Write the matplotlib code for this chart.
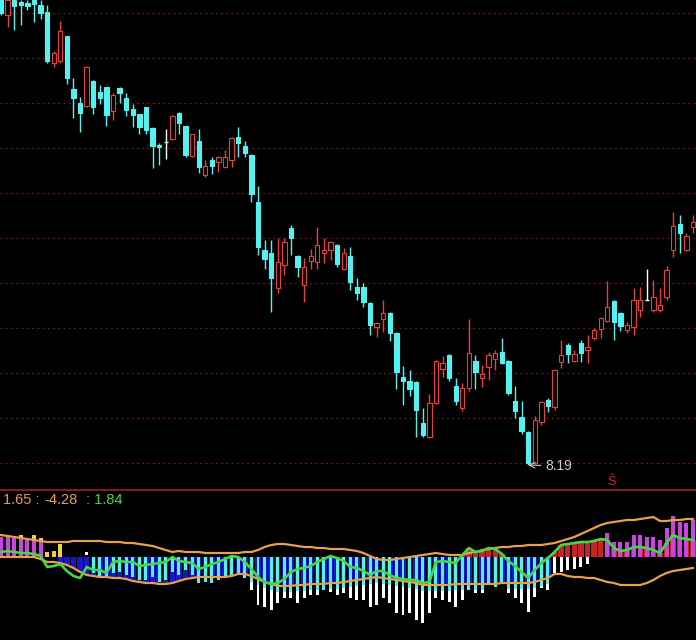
import matplotlib
matplotlib.use('Agg')
import matplotlib.pyplot as plt
from matplotlib.patches import Rectangle
from matplotlib.lines import Line2D

# ---- price data (one candle per day) ----
open_ = [
    12.86, 12.69, 12.84, 12.82, 12.81, 12.84, 12.79, 12.72, 12.21, 12.23,
    12.48, 11.95, 11.81, 11.78, 12.03, 11.92, 11.97, 11.73, 11.96, 11.86,
    11.75, 11.70, 11.77, 11.56, 11.39, 11.42, 11.45, 11.71, 11.58, 11.28,
    11.43, 11.09, 11.24, 11.22, 11.17, 11.24, 11.47, 11.38, 11.29, 10.82,
    10.34, 10.31, 9.96, 10.19, 10.56, 10.28, 9.99, 10.23, 10.22, 10.31,
    10.34, 10.39, 10.15, 10.28, 9.97, 9.97, 9.81, 9.57, 9.65, 9.71,
    9.51, 9.07, 9.03, 9.02, 8.61, 8.47, 8.81, 9.15, 9.29, 8.98,
    8.76, 8.96, 9.23, 9.06, 9.17, 9.25, 9.32, 9.23, 8.83, 8.67,
    8.52, 8.21, 8.62, 8.84, 8.77, 9.22, 9.39, 9.23, 9.41, 9.34,
    9.46, 9.55, 9.63, 9.83, 9.71, 9.54, 9.57, 9.74, 9.84, 9.74,
    9.74, 9.87, 10.34, 10.60, 10.34, 10.57]
high = [
    12.89, 12.87, 12.86, 12.84, 12.84, 12.86, 12.84, 12.79, 12.33, 12.63,
    12.48, 12.06, 11.87, 12.18, 12.04, 11.99, 11.97, 11.91, 11.97, 11.91,
    11.80, 11.70, 11.77, 11.57, 11.41, 11.55, 11.69, 11.72, 11.58, 11.50,
    11.55, 11.24, 11.27, 11.28, 11.34, 11.47, 11.57, 11.43, 11.30, 10.98,
    10.44, 10.44, 10.46, 10.46, 10.59, 10.29, 10.26, 10.35, 10.57, 10.46,
    10.43, 10.40, 10.36, 10.37, 10.06, 10.01, 9.82, 9.62, 9.84, 9.72,
    9.52, 9.18, 9.14, 9.03, 8.76, 8.90, 9.24, 9.28, 9.30, 9.06,
    9.01, 9.65, 9.29, 9.19, 9.32, 9.34, 9.46, 9.24, 8.98, 8.83,
    8.53, 8.68, 8.83, 8.86, 9.15, 9.44, 9.41, 9.34, 9.44, 9.49,
    9.56, 9.67, 10.03, 9.84, 9.72, 9.62, 9.96, 9.97, 10.15, 10.04,
    9.96, 10.18, 10.72, 10.69, 10.51, 10.69]
low = [
    12.69, 12.57, 12.54, 12.59, 12.74, 12.62, 12.65, 12.21, 12.17, 12.21,
    12.00, 11.66, 11.52, 11.77, 11.70, 11.80, 11.58, 11.64, 11.81, 11.68,
    11.57, 11.50, 11.50, 11.16, 11.19, 11.25, 11.44, 11.50, 11.27, 11.27,
    11.11, 11.07, 11.10, 11.12, 11.16, 11.17, 11.27, 11.27, 10.82, 10.29,
    10.15, 9.72, 9.91, 10.09, 10.29, 10.07, 9.82, 10.15, 10.15, 10.21,
    10.24, 10.17, 10.14, 9.94, 9.84, 9.77, 9.49, 9.47, 9.52, 9.43,
    8.95, 8.79, 8.88, 8.47, 8.47, 8.46, 8.80, 9.07, 9.03, 8.79,
    8.73, 8.93, 8.95, 8.97, 9.04, 9.14, 9.20, 8.89, 8.66, 8.50,
    8.19, 8.20, 8.59, 8.72, 8.74, 9.16, 9.21, 9.22, 9.22, 9.21,
    9.44, 9.46, 9.62, 9.44, 9.53, 9.51, 9.49, 9.67, 9.84, 9.72,
    9.72, 9.84, 10.27, 10.31, 10.33, 10.51]
close = [
    12.71, 12.84, 12.78, 12.79, 12.78, 12.80, 12.71, 12.23, 12.31, 12.53,
    12.06, 11.86, 11.71, 12.17, 11.77, 11.86, 11.69, 11.89, 11.91, 11.74,
    11.69, 11.57, 11.54, 11.38, 11.37, 11.42, 11.68, 11.61, 11.29, 11.50,
    11.17, 11.18, 11.18, 11.27, 11.27, 11.46, 11.41, 11.31, 10.90, 10.37,
    10.25, 10.06, 10.22, 10.42, 10.46, 10.17, 10.17, 10.28, 10.39, 10.34,
    10.42, 10.20, 10.31, 10.02, 9.91, 9.82, 9.59, 9.61, 9.71, 9.51,
    9.12, 9.03, 8.95, 8.74, 8.49, 8.81, 9.23, 9.21, 9.06, 8.83,
    8.96, 9.31, 9.12, 9.10, 9.29, 9.31, 9.21, 8.91, 8.73, 8.53,
    8.21, 8.64, 8.82, 8.78, 9.14, 9.29, 9.30, 9.30, 9.31, 9.37,
    9.54, 9.66, 9.77, 9.62, 9.58, 9.59, 9.84, 9.84, 9.84, 9.87,
    9.79, 10.14, 10.58, 10.51, 10.48, 10.62]

grid_levels = [8.21, 8.66, 9.11, 9.56, 10.01, 10.46, 10.91, 11.36, 11.81, 12.26, 12.71]
low_idx = 80
low_text = '8.19'

# ---- indicator panel ----
upper = [
    2.2, 2.1, 2.0, 1.9, 1.8, 1.7, 1.6, 1.5, 1.5, 1.5,
    1.5, 1.6, 1.6, 1.6, 1.6, 1.6, 1.5, 1.5, 1.5, 1.4,
    1.4, 1.3, 1.2, 1.1, 0.9, 0.7, 0.5, 0.6, 0.5, 0.5,
    0.5, 0.4, 0.4, 0.4, 0.4, 0.4, 0.4, 0.5, 0.5, 0.7,
    1.0, 1.2, 1.3, 1.3, 1.2, 1.1, 1.0, 1.0, 0.9, 0.9,
    0.8, 0.8, 0.8, 0.7, 0.6, 0.4, 0.1, -0.2, -0.3, -0.3,
    -0.2, -0.1, 0.0, 0.1, 0.2, 0.3, 0.4, 0.3, 0.2, 0.2,
    0.2, 0.4, 0.5, 0.7, 0.8, 0.9, 1.0, 1.0, 1.1, 1.1,
    1.2, 1.2, 1.2, 1.3, 1.4, 1.6, 1.8, 2.0, 2.3, 2.6,
    2.9, 3.2, 3.4, 3.5, 3.6, 3.7, 3.7, 3.8, 3.9, 4.0,
    3.6, 3.6, 3.7, 3.7, 3.8, 3.8]
lower = [
    0.0, 0.0, 0.0, 0.0, 0.0, 0.0, -0.2, -0.5, -0.5, -0.6,
    -0.8, -1.1, -1.5, -1.8, -1.9, -2.0, -2.0, -2.1, -2.1, -2.2,
    -2.4, -2.5, -2.6, -2.6, -2.7, -2.7, -2.6, -2.4, -2.2, -2.1,
    -2.0, -2.0, -2.0, -2.0, -2.0, -1.9, -1.7, -1.7, -1.9, -2.2,
    -2.5, -2.7, -2.9, -2.9, -2.9, -2.8, -2.8, -2.7, -2.7, -2.7,
    -2.6, -2.6, -2.5, -2.4, -2.3, -2.2, -2.1, -2.0, -2.1, -2.2,
    -2.3, -2.4, -2.5, -2.6, -2.8, -2.8, -2.8, -2.8, -2.8, -2.7,
    -2.7, -2.7, -2.7, -2.7, -2.7, -2.7, -2.6, -2.6, -2.6, -2.6,
    -2.6, -2.5, -2.3, -2.1, -1.7, -1.7, -1.9, -2.0, -2.0, -2.1,
    -2.1, -2.3, -2.5, -2.6, -2.8, -2.8, -2.8, -2.8, -2.6, -2.3,
    -1.9, -1.6, -1.4, -1.3, -1.2, -1.1]
green = [
    0.5, 0.6, 0.5, 0.4, 0.4, 0.3, 0.1, -1.0, -0.9, -0.7,
    -1.4, -1.9, -2.1, -1.0, -1.3, -1.3, -1.6, -0.5, -0.4, -0.5,
    -0.5, -0.9, -0.8, -0.7, -0.6, -0.5, 0.0, -0.4, -0.5, -0.6,
    -1.2, -1.0, -0.7, -0.5, -0.2, 0.1, 0.0, -0.5, -1.2, -2.0,
    -2.5, -2.7, -2.6, -2.2, -1.5, -1.2, -1.1, -0.9, -0.5, -0.2,
    0.1, -0.1, -0.4, -1.0, -1.1, -1.4, -1.8, -1.4, -1.4, -1.8,
    -2.1, -2.2, -2.3, -2.3, -2.6, -2.5, -0.5, -0.4, -0.5, -0.6,
    0.2, 0.9, 0.5, 0.6, 0.9, 0.8, 0.3, -0.4, -0.9, -1.5,
    -2.1, -1.3, -0.6, -0.1, 0.5, 1.2, 1.3, 1.4, 1.5, 1.5,
    1.6, 1.8, 1.7, 0.9, 0.6, 0.7, 1.0, 1.0, 0.9, 0.7,
    0.4, 1.4, 2.2, 1.9, 1.8, 1.7]
hist = [
    2.0, 2.2, 2.0, 1.9, 1.7, 1.9, 1.5, 0.5, 0.6, 1.3,
    0.0, 0.0, 0.0, 0.5, -1.6, -2.0, -2.1, -1.6, -1.5, -1.8,
    -2.0, -2.3, -2.3, -2.0, -2.5, -2.3, -1.5, -1.8, -1.3, -1.8,
    -2.6, -2.5, -2.6, -2.3, -2.0, -1.8, -1.6, -2.1, -3.3, -4.8,
    -5.0, -5.3, -4.6, -4.1, -4.1, -4.6, -4.1, -3.8, -3.8, -3.3,
    -3.5, -3.8, -3.6, -4.1, -4.3, -4.3, -5.0, -4.8, -4.1, -4.6,
    -5.6, -5.8, -5.6, -6.3, -6.6, -5.6, -4.1, -4.3, -4.5, -5.0,
    -4.3, -3.3, -3.6, -3.6, -2.6, -3.0, -2.6, -3.6, -4.1, -4.6,
    -5.5, -4.0, -3.1, -3.3, -1.6, -1.5, -1.3, -1.2, -1.0, -0.7,
    0.0, 0.0, 2.4, 1.5, 1.5, 1.5, 2.2, 2.2, 2.0, 2.0,
    1.7, 2.9, 4.1, 3.5, 3.4, 3.7]
cap_bars = [3, 5, 6]
cap_vals = [2.0, 2.0, 1.7]
readout = ['1.65 :', '-4.28', ': 1.84']

# ---- styles ----
RED = '#e8403c'
CYAN = '#55f0f0'
GRID = '#6a1818'
ORANGE = '#e8a04a'
GREEN = '#44d844'
BLUE = '#1818c8'
FILL_RED = '#c82222'
MAGENTA = '#cc44e0'
YELLOW = '#f0d048'
yellow_bars = (7, 8, 9)
white_dot_bars = (13,)
white_only = range(84, 90)
blue_span = range(9, 84)
cyan_extra = 0.6   # cyan part of a stick runs this far past the lower band

plt.rcParams['font.family'] = ['Liberation Sans', 'DejaVu Sans']

W, H = 696, 640
fig = plt.figure(figsize=(W / 100, H / 100), dpi=100, facecolor='black')
xlim = (-1 / 6.59, 695 / 6.59)


def draw_price(ax):
    n = len(close)
    for i in range(n):
        o, h, l, c = open_[i], high[i], low[i], close[i]
        if c > o:
            col = RED
        elif c < o:
            col = CYAN
        else:
            col = 'white'
        ax.vlines(i, l, h, color=col, lw=1.0, zorder=2)
        if c == o:
            ax.hlines(o, i - 0.32, i + 0.32, color=col, lw=1.0, zorder=3)
        else:
            face = 'black' if c > o else col
            ax.add_patch(Rectangle((i - 0.33, min(o, c)), 0.66, abs(c - o),
                                   facecolor=face, edgecolor=col, lw=0.8, zorder=3))
    ax.set_xlim(*xlim)
    ax.set_ylim(7.94, 12.84)
    ax.set_yticks(grid_levels)
    ax.set_xticks([])
    ax.tick_params(length=0, labelleft=False)
    ax.grid(axis='y', color=GRID, linestyle=(0, (1.6, 2.6)), lw=0.9)
    for s in ax.spines.values():
        s.set_visible(False)
    ax.annotate(low_text, xy=(low_idx, low[low_idx]), xytext=(low_idx + 2.55, low[low_idx] - 0.01),
                color='#cccccc', fontsize=10, va='center', ha='left',
                arrowprops=dict(arrowstyle='->', color='#cccccc', lw=0.8, shrinkA=1, shrinkB=0))
    ax.text(92.6, 8.02, '\u015c', color='#e02828', fontsize=9, ha='center', va='center')


def draw_indicator(ax):
    n = len(hist)
    for i in blue_span:
        ax.bar(i, lower[i], width=0.82, bottom=0, color=BLUE, zorder=1)
    for i in range(9, n):
        if green[i] > 0:
            ax.bar(i, green[i], width=0.82, bottom=0, color=FILL_RED, zorder=1)
    for i in range(n):
        v = hist[i]
        if v == 0:
            continue
        if v > 0:
            if i in yellow_bars:
                col = YELLOW
            elif i in white_dot_bars:
                ax.bar(i, 0.3, width=0.45, bottom=v - 0.3, color='white', zorder=2)
                continue
            else:
                col = MAGENTA
            ax.bar(i, v, width=0.6, bottom=0, color=col, zorder=2)
        else:
            if i in white_only:
                ax.bar(i, v, width=0.45, bottom=0, color='white', zorder=2)
            else:
                split = max(v, lower[i] - cyan_extra)
                ax.bar(i, split, width=0.45, bottom=0, color=CYAN, zorder=2)
                if v < split:
                    ax.bar(i, v - split, width=0.45, bottom=split, color='white', zorder=2)
    ax.scatter(cap_bars, cap_vals, marker='s', s=6, color=YELLOW, zorder=3, linewidths=0)
    x = list(range(n))
    ax.plot(x, upper, color=ORANGE, lw=1.6, zorder=4)
    ax.plot(x, lower, color=ORANGE, lw=1.6, zorder=4)
    ax.plot(x, green, color=GREEN, lw=1.9, zorder=5)
    ax.set_xlim(*xlim)
    ax.set_ylim(-8.3, 6.7)
    ax.axis('off')


ax_p = fig.add_axes([0, 1 - 490 / H, 1, 490 / H], facecolor='black')
ax_i = fig.add_axes([0, 0, 1, 150 / H], facecolor='black')
draw_price(ax_p)
draw_indicator(ax_i)

fig.add_artist(Line2D([0, 1], [1 - 489.5 / H] * 2, color='#a02222', lw=1.2))
ty = 1 - 500 / H
fig.text(3 / W, ty, readout[0], color='#e8946a', fontsize=10.5, va='center')
fig.text(44 / W, ty, readout[1], color=ORANGE, fontsize=10.5, va='center')
fig.text(86 / W, ty, readout[2], color=GREEN, fontsize=10.5, va='center')

fig.savefig('out.png', dpi=100, facecolor='black')
